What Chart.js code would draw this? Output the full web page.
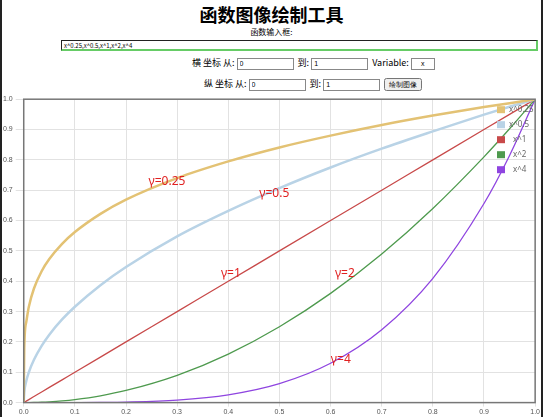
<!DOCTYPE html>
<html>
<head>
<meta charset="utf-8">
<script src="https://cdn.jsdelivr.net/npm/chart.js@4"></script>
<style>
  body { margin: 0; width: 543px; height: 417px; overflow: hidden; font-family: "Noto Sans CJK SC", "Noto Sans", sans-serif; background: #fff; border-left: 2px solid #222; border-right: 2px solid #222; box-sizing: border-box; }
  h1 { margin: 3px 0 0; font-size: 18px; text-align: center; line-height: 22px; }
  .lbl { text-align: center; font-size: 8px; margin-top: 2px; line-height: 10px; }
  #fn { position: absolute; left: 61px; top: 40px; width: 477px; height: 11px; border: 1px solid #222; border-right: 2px solid #6c6; border-bottom: 2px solid #6c6; font-size: 6px; padding: 0 2px; box-sizing: border-box; line-height: 9px; }
  .row { position: absolute; font-size: 9px; line-height: 13px; }
  .row input { width: 57px; height: 12px; font-size: 7px; border: 1px solid #888; padding: 0 2px; vertical-align: middle; box-sizing: border-box; }
  .row button { font-size: 7px; height: 13px; padding: 0 3px; vertical-align: middle; }
  #wrap { position: absolute; left: 0; top: 92px; width: 541px; height: 325px; }
</style>
</head>
<body>
<h1>函数图像绘制工具</h1>
<div class="lbl">函数输入框:</div>
<div id="fn">x^0.25,x^0.5,x^1,x^2,x^4</div>
<div class="row" style="left:192px;top:56px">横 坐标 从: <input value="0"> &nbsp;到: <input value="1"> &nbsp;Variable: <input value="x" style="width:24px;text-align:center"></div>
<div class="row" style="left:204px;top:77px">纵 坐标 从: <input value="0"> &nbsp;到: <input value="1"> &nbsp;<button>绘制图像</button></div>
<div id="wrap"><canvas id="c"></canvas></div>
<script>
const xs = [0, 0.001, 0.005, 0.01, 0.02, 0.035, 0.05, 0.075, 0.1, 0.15, 0.2, 0.3, 0.4, 0.5, 0.6, 0.7, 0.8, 0.9, 0.95, 1];
const labels = ['x^0.25', 'x^0.5', 'x^1', 'x^2', 'x^4'];
const colors = ['#e3c274', '#b9d3e6', '#c84a4a', '#4e9a4e', '#8f45e0'];
const y025 = [0, 0.178, 0.266, 0.316, 0.376, 0.433, 0.473, 0.523, 0.562, 0.622, 0.669, 0.740, 0.795, 0.841, 0.880, 0.915, 0.946, 0.974, 0.987, 1];
const y05 = [0, 0.032, 0.071, 0.1, 0.141, 0.187, 0.224, 0.274, 0.316, 0.387, 0.447, 0.548, 0.632, 0.707, 0.775, 0.837, 0.894, 0.949, 0.975, 1];
const y1 = [0, 0.001, 0.005, 0.01, 0.02, 0.035, 0.05, 0.075, 0.1, 0.15, 0.2, 0.3, 0.4, 0.5, 0.6, 0.7, 0.8, 0.9, 0.95, 1];
const y2 = [0, 0, 0, 0.0001, 0.0004, 0.0012, 0.0025, 0.0056, 0.01, 0.0225, 0.04, 0.09, 0.16, 0.25, 0.36, 0.49, 0.64, 0.81, 0.9025, 1];
const y4 = [0, 0, 0, 0, 0, 0, 0, 0, 0.0001, 0.0005, 0.0016, 0.0081, 0.0256, 0.0625, 0.1296, 0.2401, 0.4096, 0.6561, 0.8145, 1];
const series = [y025, y05, y1, y2, y4];
const notes = [
  { text: 'γ=0.25', x: 0.28, y: 0.73 },
  { text: 'γ=0.5', x: 0.49, y: 0.69 },
  { text: 'γ=1', x: 0.405, y: 0.425 },
  { text: 'γ=2', x: 0.628, y: 0.425 },
  { text: 'γ=4', x: 0.62, y: 0.143 }
];

// red notes and inset legend
const overlay = {
  id: 'overlay',
  afterDatasetsDraw(chart) {
    const { ctx, scales, chartArea } = chart;
    ctx.save();
    ctx.strokeStyle = '#777';
    ctx.lineWidth = 1.5;
    ctx.strokeRect(chartArea.left, chartArea.top, chartArea.right - chartArea.left, chartArea.bottom - chartArea.top);
    ctx.font = '12px "Noto Sans", sans-serif';
    ctx.fillStyle = '#e02020';
    ctx.textAlign = 'center';
    ctx.textBaseline = 'middle';
    notes.forEach(n => ctx.fillText(n.text, scales.x.getPixelForValue(n.x), scales.y.getPixelForValue(n.y)));
    ctx.font = '8px "Noto Sans", sans-serif';
    ctx.textAlign = 'left';
    chart.data.datasets.forEach((d, i) => {
      const y = chartArea.top + 11 + i * 15;
      ctx.fillStyle = d.borderColor;
      ctx.fillRect(497, y - 4, 8, 7);
      ctx.fillStyle = '#666';
      ctx.fillText(d.label, i < 2 ? 509 : 513, y);
    });
    ctx.restore();
  }
};

new Chart(document.getElementById('c'), {
  type: 'line',
  data: {
    datasets: series.map((s, i) => ({
      label: labels[i],
      data: xs.map((x, j) => ({ x: x, y: s[j] })),
      borderColor: colors[i],
      backgroundColor: colors[i],
      borderWidth: i < 2 ? 2.5 : 1.3,
      pointRadius: 0,
      cubicInterpolationMode: 'monotone'
    }))
  },
  options: {
    responsive: true,
    maintainAspectRatio: false,
    animation: false,
    layout: { padding: { left: 0, right: 3, top: 2, bottom: 0 } },
    plugins: { legend: { display: false }, tooltip: { enabled: false } },
    scales: {
      x: { type: 'linear', min: 0, max: 1, ticks: { stepSize: 0.1, padding: 1, font: { size: 7 }, color: '#555', callback: v => v.toFixed(1) }, grid: { color: '#e2e2e2', tickLength: 4 } },
      y: { min: 0, max: 1, ticks: { stepSize: 0.1, font: { size: 7 }, color: '#555', callback: v => v.toFixed(1) }, grid: { color: '#e2e2e2' } }
    }
  },
  plugins: [overlay]
});
</script>
</body>
</html>
